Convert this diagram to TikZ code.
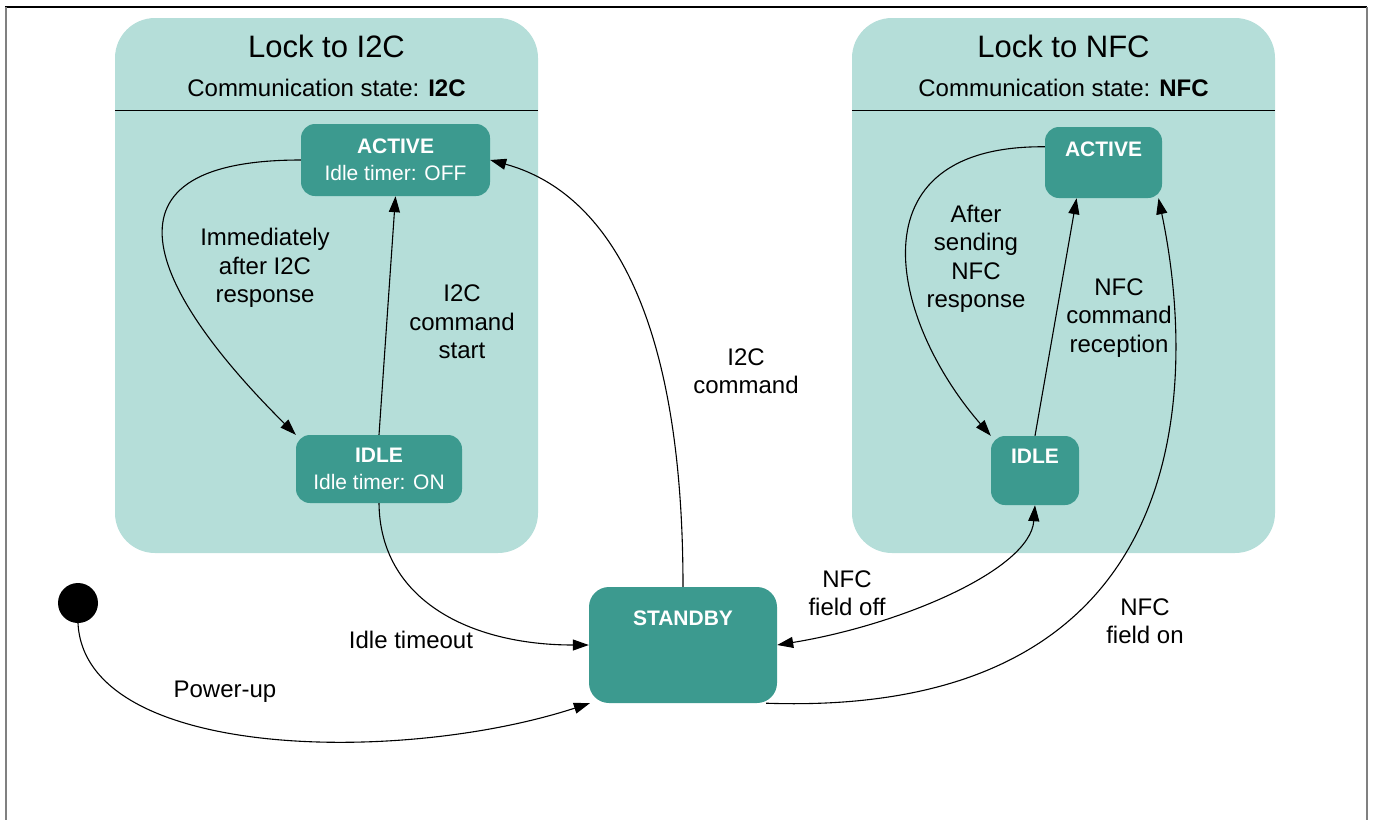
\documentclass[tikz,border=0pt]{standalone}
\usepackage{fontspec}
\setmainfont{Liberation Sans}
\usetikzlibrary{arrows.meta}

\begin{document}
\begin{tikzpicture}[x=1pt,y=-1pt,
  >={Triangle[length=16pt,width=11pt]},
  grp/.style={rectangle,rounded corners=40pt,fill=paleteal,minimum width=423pt,minimum height=535pt},
  state/.style={rectangle,rounded corners=14pt,fill=darkteal,text=white,align=center,inner sep=0pt,font=\fontsize{21}{27}\selectfont},
  headline/.style 2 args={label={[anchor=north,yshift=#2,inner sep=0pt,text=white,font=\fontsize{21}{27}\selectfont\bfseries]north:#1}},
  tag/.style={align=center,font=\fontsize{24}{28.5}\selectfont},
  trans/.style={->,line width=1.1pt}]
\definecolor{paleteal}{HTML}{B5DED9}
\definecolor{darkteal}{HTML}{3C9A8F}
\useasboundingbox (0,0) rectangle (1373,820);
% frame
\draw[line width=1.5pt] (5,7) -- (1367,7);
\draw[gray,line width=2pt] (6,7) -- (6,820) (1367,7) -- (1367,820);
% communication state groups
\foreach \cx/\proto in {326.5/I2C,1063.5/NFC}
{ \node[grp] (grp\proto) at (\cx,285.5) {};
  \node[font=\fontsize{31}{36}\selectfont] at (\cx,46) {Lock to \proto};
  \node[font=\fontsize{24}{28}\selectfont] at (\cx,88) {Communication state: \textbf{\proto}};
  \draw[line width=1.2pt] ([yshift=-93pt]grp\proto.north west) -- ([yshift=-93pt]grp\proto.north east);}
% states
\node[state,minimum width=189pt,minimum height=72pt] (actA) at (395.5,160) {\textbf{ACTIVE}\\Idle timer: OFF};
\node[state,minimum width=166pt,minimum height=68pt] (idleA) at (379,469) {\textbf{IDLE}\\Idle timer: ON};
\node[state,minimum width=117pt,minimum height=71pt,headline={ACTIVE}{-14.5pt}] (actB) at (1103.5,162.5) {};
\node[state,minimum width=88pt,minimum height=69pt,headline={IDLE}{-13.5pt}] (idleB) at (1035,470.5) {};
\node[state,rounded corners=20pt,minimum width=188pt,minimum height=116pt,headline={STANDBY}{-23.5pt}] (stb) at (683,645) {};
\node[circle,fill=black,minimum size=40pt,inner sep=0pt] (init) at (78,603) {};
% transitions
\draw[trans] (init.south) .. controls (85,760) and (400,765) .. (stb.-148);
\draw[trans] (idleA.south) .. controls (380,600) and (470,645) .. (stb.west);
\draw[trans] (idleA.north) -- (actA.south);
\draw[trans] (actA.west) .. controls (80,160) and (160,300) .. (idleA.north west);
\draw[trans] (stb.north) .. controls (683,300) and (600,190) .. (actA.east);
\draw[trans] (actB.165) .. controls (850,145) and (890,320) .. (idleB.north west);
\draw[trans] (idleB.north) -- (actB.-127);
\draw[<->,line width=1.1pt] (idleB.south) .. controls (1030,570) and (900,625) .. (stb.east);
\draw[trans] (stb.-35) .. controls (1250,720) and (1180,300) .. (actB.-33);
% labels
\node[tag] (tImm) at (265,268) {Immediately\\after I2C\\response};
\node[tag] (tCmdA) at (462,322) {I2C\\command\\start};
\node[tag] (tCmd) at (746,371) {I2C\\command};
\node[tag] (tSend) at (976,259) {After\\sending\\NFC\\response};
\node[tag] (tRecv) at (1119,318) {NFC\\command\\reception};
\node[tag] (tOff) at (847,593) {NFC\\field off};
\node[tag] (tOn) at (1145,621) {NFC\\field on};
\node[tag] (tIdle) at (411,640) {Idle timeout};
\node[tag] (tPwr) at (225,692) {Power-up};
\end{tikzpicture}
\end{document}
